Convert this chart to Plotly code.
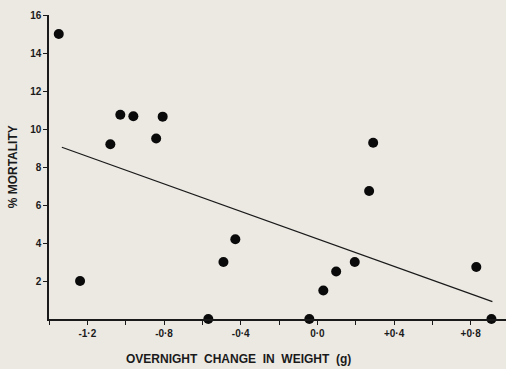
import plotly.graph_objects as go

# Data
weight_change = [-1.349, -1.238, -1.080, -1.028, -0.960, -0.841, -0.807, -0.569, -0.490, -0.428,
                 -0.042, 0.031, 0.098, 0.195, 0.270, 0.291, 0.829, 0.908]
mortality = [15.0, 2.0, 9.2, 10.75, 10.67, 9.5, 10.65, 0.0, 3.0, 4.2,
             0.0, 1.5, 2.5, 3.0, 6.74, 9.28, 2.74, 0.0]
fit_x = [-1.333, 0.913]
fit_y = [9.04, 0.92]

x_tickvals = [-1.4, -1.2, -1.0, -0.8, -0.6, -0.4, -0.2, 0.0, 0.2, 0.4, 0.6, 0.8]
x_ticktext = ["", "-1·2", "", "-0·8", "", "-0·4", "", "0·0", "", "+0·4", "", "+0·8"]
y_tickvals = [2, 4, 6, 8, 10, 12, 14, 16]
y_ticktext = ["2", "4", "6", "8", "10", "12", "14", "16"]

bg = "#ece9e3"
ink = "#1a1a1a"
font = "Liberation Sans, Arial, sans-serif"

fig = go.Figure()
fig.add_trace(go.Scatter(x=fit_x, y=fit_y, mode="lines",
                         line=dict(color=ink, width=1.3), hoverinfo="skip"))
fig.add_trace(go.Scatter(x=weight_change, y=mortality, mode="markers",
                         marker=dict(color="#0a0a0a", size=10), cliponaxis=False))

tickfont = dict(size=10, family=font, color=ink, weight="bold")

fig.update_layout(
    width=506, height=369,
    margin=dict(l=49, r=0, t=15, b=50),
    paper_bgcolor=bg, plot_bgcolor=bg,
    showlegend=False,
    font=dict(family=font, color=ink),
    xaxis=dict(range=[-1.4, 0.984], tickvals=x_tickvals, ticktext=x_ticktext,
               ticks="outside", ticklen=4, tickwidth=1, tickcolor=ink,
               showline=True, linecolor=ink, linewidth=1.5,
               showgrid=False, zeroline=False, tickfont=tickfont),
    yaxis=dict(range=[0, 16], tickvals=y_tickvals, ticktext=y_ticktext,
               ticks="outside", ticklen=4, tickwidth=1, tickcolor=ink,
               showline=True, linecolor=ink, linewidth=1.5,
               showgrid=False, zeroline=False, tickfont=tickfont),
    annotations=[
        dict(text="<b>% MORTALITY</b>", xref="paper", yref="paper", x=-0.078, y=0.5,
             xanchor="center", yanchor="middle", textangle=-90, showarrow=False,
             font=dict(size=12, family=font, color=ink)),
        dict(text="<b>OVERNIGHT  CHANGE  IN  WEIGHT  (g)</b>", xref="paper", yref="paper",
             x=(238 - 49) / 457, y=-0.13, xanchor="center", yanchor="middle",
             showarrow=False, font=dict(size=12, family=font, color=ink)),
    ],
)

fig.write_html(
    "out.html",
    config={"displayModeBar": False},
    post_script="document.body.style.margin='0';document.body.style.background='%s';"
                "document.body.style.overflow='hidden';" % bg,
)
